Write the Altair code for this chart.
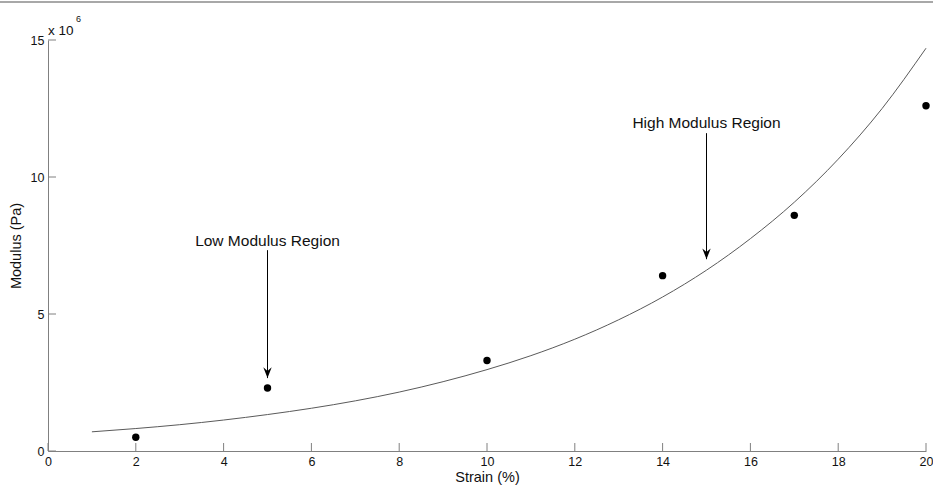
import altair as alt
import pandas as pd

# Measured data (modulus in units of 10^6 Pa)
strain = [2, 5, 10, 14, 17, 20]
modulus = [0.5, 2.3, 3.3, 6.4, 8.6, 12.6]

# Fitted curve
fit_strain = [1, 2, 3, 4, 5, 6, 7, 8, 9, 10, 11, 12, 13, 14, 15, 16, 17, 18, 19, 20]
fit_modulus = [0.70, 0.82, 0.96, 1.13, 1.33, 1.56, 1.83, 2.15, 2.53, 2.97, 3.48, 4.08,
               4.79, 5.62, 6.60, 7.75, 9.08, 10.65, 12.5, 14.7]

# Annotations
ann_text = ["Low Modulus Region", "High Modulus Region"]
ann_x = [5, 15]
ann_text_y = [7.66, 11.97]
ann_start_y = [7.33, 11.6]
ann_end_y = [2.66, 7.0]

x_ticks = [0, 2, 4, 6, 8, 10, 12, 14, 16, 18, 20]
y_ticks = [0, 5, 10, 15]

FONT = "Liberation Sans"
AXIS_COLOR = "#808080"
W, H = 878, 411

xs = alt.Scale(domain=[0, 20], nice=False, zero=False)
ys = alt.Scale(domain=[0, 15], nice=False, zero=False)

xa = alt.Axis(values=x_ticks, ticks=False, grid=False, domainColor=AXIS_COLOR,
              labelFontSize=12.5, labelPadding=4, labelColor="#111111",
              title="Strain (%)", titleFontSize=14.5, titleFontWeight="normal",
              titlePadding=3, titleColor="#111111", labelFlush=False)
ya = alt.Axis(values=y_ticks, ticks=False, grid=False, domainColor=AXIS_COLOR,
              labelFontSize=12.5, labelPadding=4, labelColor="#111111",
              title="Modulus (Pa)", titleFontSize=14.5, titleFontWeight="normal",
              titlePadding=7, titleColor="#111111", labelFlush=False)

pts_df = pd.DataFrame({"strain": strain, "modulus": modulus})
fit_df = pd.DataFrame({"strain": fit_strain, "modulus": fit_modulus})
ann_df = pd.DataFrame({"text": ann_text, "x": ann_x, "ty": ann_text_y,
                       "y0": ann_start_y, "y1": ann_end_y})
xt_df = pd.DataFrame({"t": x_ticks})
yt_df = pd.DataFrame({"t": y_ticks})

points = alt.Chart(pts_df).mark_circle(size=55, color="black", opacity=1).encode(
    x=alt.X("strain:Q", scale=xs, axis=xa),
    y=alt.Y("modulus:Q", scale=ys, axis=ya),
)

curve = alt.Chart(fit_df).mark_line(color="#5a5a5a", strokeWidth=1, interpolate="monotone").encode(
    x=alt.X("strain:Q", scale=xs, axis=xa),
    y=alt.Y("modulus:Q", scale=ys, axis=ya),
)

xticks = alt.Chart(xt_df).mark_rule(color=AXIS_COLOR, strokeWidth=1).encode(
    x=alt.X("t:Q", scale=xs, axis=xa),
    y=alt.value(H),
    y2=alt.value(H - 8),
)

yticks = alt.Chart(yt_df).mark_rule(color=AXIS_COLOR, strokeWidth=1).encode(
    y=alt.Y("t:Q", scale=ys, axis=ya),
    x=alt.value(0),
    x2=alt.value(8),
)

shafts = alt.Chart(ann_df).mark_rule(color="black", strokeWidth=1).encode(
    x=alt.X("x:Q", scale=xs, axis=xa),
    y=alt.Y("y0:Q", scale=ys, axis=ya),
    y2="y1:Q",
)

heads = alt.Chart(ann_df).mark_point(
    shape="M0,0 L-0.7,-1.8 L0,-1.2 L0.7,-1.8 Z", size=144, filled=True,
    color="black", opacity=1, strokeWidth=0
).encode(
    x=alt.X("x:Q", scale=xs, axis=xa),
    y=alt.Y("y1:Q", scale=ys, axis=ya),
)

labels = alt.Chart(ann_df).mark_text(font=FONT, fontSize=15.5, color="#111111",
                                     align="center", baseline="middle").encode(
    x=alt.X("x:Q", scale=xs, axis=xa),
    y=alt.Y("ty:Q", scale=ys, axis=ya),
    text="text:N",
)

exp_base = alt.Chart(pd.DataFrame({"t": ["x 10"]})).mark_text(
    font=FONT, fontSize=13.5, color="#111111", align="left", baseline="alphabetic"
).encode(x=alt.value(0), y=alt.value(-5), text="t:N")

exp_pow = alt.Chart(pd.DataFrame({"t": ["6"]})).mark_text(
    font=FONT, fontSize=9, color="#111111", align="left", baseline="middle"
).encode(x=alt.value(28), y=alt.value(-21), text="t:N")

border = alt.Chart(pd.DataFrame({"a": [0]})).mark_rule(color="#a8a8a8", strokeWidth=2).encode(
    x=alt.value(-48), x2=alt.value(890), y=alt.value(-38)
)

chart = alt.layer(
    border, curve, xticks, yticks, points, shafts, heads, labels, exp_base, exp_pow
).properties(
    width=W, height=H,
    autosize=alt.AutoSizeParams(type="none"),
    padding={"left": 48, "top": 40, "right": 7, "bottom": 34},
    background="white",
).configure_view(stroke=None).configure_axis(
    labelFont=FONT, titleFont=FONT
).configure_text(font=FONT)

chart.save("out.html", embed_options={"renderer": "svg", "actions": False})
